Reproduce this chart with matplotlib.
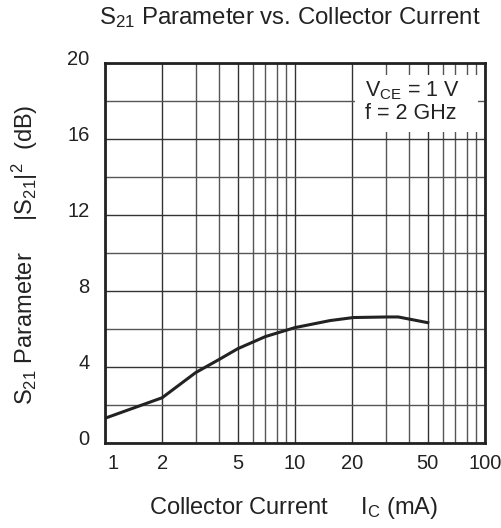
import matplotlib
matplotlib.use("Agg")
from matplotlib import pyplot as plt
from matplotlib.ticker import FixedLocator, NullFormatter
from matplotlib.patches import Rectangle
import matplotlib.transforms as mtransforms

plt.rcParams['font.family'] = ['Liberation Sans', 'DejaVu Sans']
plt.rcParams['mathtext.fontset'] = 'custom'
plt.rcParams['mathtext.rm'] = 'Liberation Sans'
plt.rcParams['mathtext.it'] = 'Liberation Sans'
plt.rcParams['mathtext.default'] = 'rm'

# collector current (mA) and S21 gain (dB)
ic = [1, 2, 3, 4, 5, 7, 10, 15.3, 20.3, 30.4, 35, 50]
s21 = [1.3, 2.38, 3.7, 4.4, 4.96, 5.6, 6.07, 6.44, 6.6, 6.63, 6.63, 6.33]

xticks = [1, 2, 5, 10, 20, 50, 100]
xminor = [3, 4, 6, 7, 8, 9, 30, 40, 60, 70, 80, 90]
yticks = [0, 4, 8, 12, 16, 20]
yminor = [2, 6, 10, 14, 18]

fig = plt.figure(figsize=(5.02, 5.28), dpi=100)
ax = fig.add_axes([0.209, 0.161, 0.757, 0.72])

ax.set_xscale('log')
ax.set_xlim(1, 100)
ax.set_ylim(0, 20)

ax.xaxis.set_major_locator(FixedLocator(xticks))
ax.xaxis.set_minor_locator(FixedLocator(xminor))
ax.xaxis.set_minor_formatter(NullFormatter())
ax.set_xticklabels([str(t) for t in xticks])
ax.yaxis.set_major_locator(FixedLocator(yticks))
ax.yaxis.set_minor_locator(FixedLocator(yminor))

ax.grid(True, which='major', color='#333333', lw=1.0)
ax.grid(True, which='minor', color='#555555', lw=1.0)
ax.tick_params(which='both', length=0, labelsize=14.5, colors='#222222')
ax.tick_params(axis='x', pad=8)
ax.tick_params(axis='y', pad=11)

for s in ax.spines.values():
    s.set_linewidth(2.0)
    s.set_color('#222222')

ax.plot(ic, s21, color='#222222', lw=2.2, zorder=3)

# nudge tick labels like the datasheet
up = mtransforms.ScaledTranslation(0, 5 / 100, fig.dpi_scale_trans)
for lab in ax.get_yticklabels():
    lab.set_transform(lab.get_transform() + up)
right = mtransforms.ScaledTranslation(8 / 100, 0, fig.dpi_scale_trans)
xl = ax.get_xticklabels()
xl[0].set_transform(xl[0].get_transform() + right)

ax.add_patch(Rectangle((0.658, 0.818), 0.324, 0.15, transform=ax.transAxes,
                       fc='white', ec='none', zorder=4))
ax.text(0.684, 0.957, 'V$_{CE}$ = 1 V\nf = 2 GHz', transform=ax.transAxes,
        ha='left', va='top', fontsize=15.5, color='#222222', linespacing=1.1,
        zorder=5)

fig.text(0.578, 0.966, 'S$_{21}$ Parameter vs. Collector Current',
         ha='center', va='center', fontsize=17.3, color='#222222')
fig.text(0.585, 0.038, 'Collector Current     I$_C$ (mA)',
         ha='center', va='center', fontsize=17, color='#222222')
fig.text(0.05, 0.518, 'S$_{21}$ Parameter     |S$_{21}$|$^2$  (dB)',
         ha='center', va='center', rotation=90, fontsize=17, color='#222222')

fig.savefig('out.png', dpi=100)
